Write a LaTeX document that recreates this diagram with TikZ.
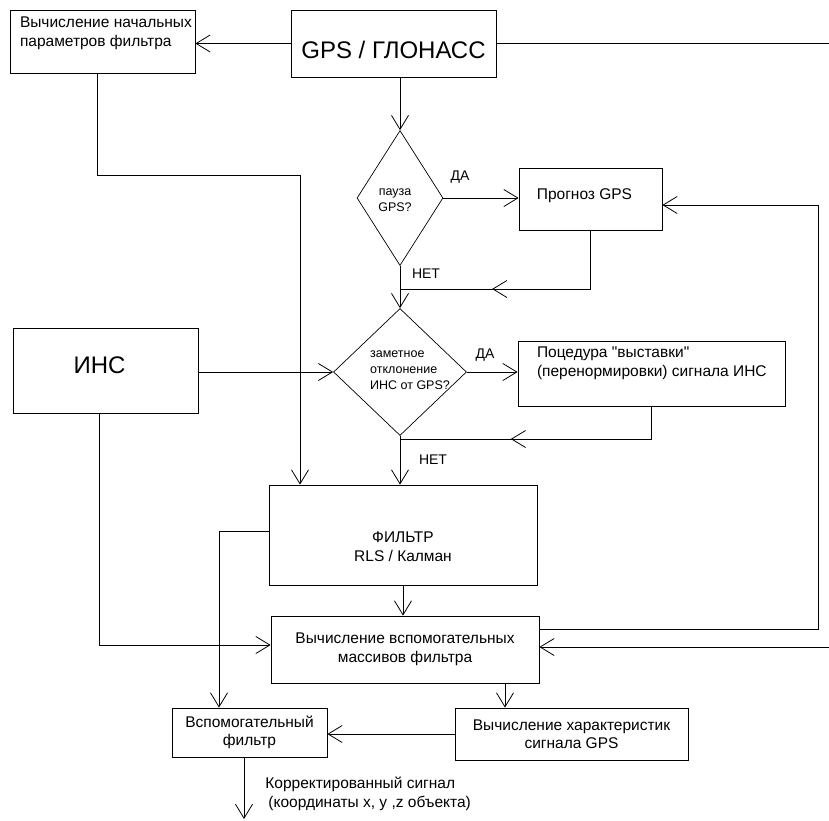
\documentclass[tikz,border=0pt]{standalone}
\usepackage{fontspec}
\setmainfont{Liberation Sans}
\usetikzlibrary{shapes.geometric,arrows.meta,decorations.markings}

\begin{document}
\begin{tikzpicture}[x=1pt, y=-1pt, line width=0.8pt,
  >={Straight Barb[length=14pt,width=17pt]},
  blok/.style={draw, rectangle, inner sep=0pt},
  romb/.style={draw, diamond, inner sep=0pt, line width=0.7pt},
  txt/.style={inner sep=0pt, align=center, font=\fontsize{15.5}{18.5}\selectfont},
  lbl/.style={txt, anchor=north west, align=left},
  metka/.style={inner sep=0pt, font=\fontsize{14}{17}\selectfont},
  malo/.style={inner sep=0pt, font=\fontsize{12.5}{16}\selectfont},
  krup/.style={inner sep=0pt, font=\fontsize{24}{28}\selectfont},
  midarrow/.style={postaction={decorate},
    decoration={markings, mark=at position #1 with {\arrow{>}}}}]

\useasboundingbox (0,0) rectangle (829,820);

% Верхний ряд
\node[blok, minimum width=185pt, minimum height=63pt,
  label={[lbl, xshift=10pt, yshift=-7pt]north west:Вычисление начальных\\параметров фильтра}]
  (init) at (102.5,41.5) {};
\node[blok, minimum width=205pt, minimum height=67pt,
  label={[krup, yshift=-6pt]center:GPS / ГЛОНАСС}] (gps) at (393.5,43.5) {};

% Ромбы
\node[romb, minimum width=86pt, minimum height=135pt,
  label={[malo, align=center, xshift=-5pt, yshift=-2pt]center:пауза\\GPS?}] (d1) at (400,198) {};
\node[romb, minimum width=133pt, minimum height=127pt,
  label={[malo, align=left, xshift=10pt, yshift=2pt]center:заметное\\отклонение\\ИНС от GPS?}] (d2) at (400,372) {};

% Правые блоки
\node[blok, minimum width=143pt, minimum height=62pt,
  label={[txt, xshift=-6pt, yshift=3pt]center:Прогноз GPS}] (prog) at (590.5,199) {};
\node[blok, minimum width=267pt, minimum height=65pt,
  label={[lbl, xshift=19pt, yshift=-6pt]north west:Поцедура \textquotedbl выставки\textquotedbl\\(перенормировки) сигнала ИНС}]
  (proc) at (651.5,373.5) {};

% ИНС
\node[blok, minimum width=185pt, minimum height=85pt,
  label={[krup, xshift=-6pt, yshift=5pt]center:ИНС}] (ins) at (105.5,370.5) {};

% Фильтры
\node[blok, minimum width=268pt, minimum height=100pt,
  label={[txt, yshift=-11.5pt]center:ФИЛЬТР\\RLS / Калман}] (filt) at (403,535) {};
\node[blok, txt, minimum width=268pt, minimum height=67pt] (aux) at (405,649.5)
  {Вычисление вспомогательных\\массивов фильтра};
\node[blok, txt, minimum width=155pt, minimum height=49pt] (vsp) at (249.5,732.5)
  {Вспомогательный\\фильтр};
\node[blok, txt, minimum width=233pt, minimum height=52pt] (char) at (571.5,734)
  {Вычисление характеристик\\сигнала GPS};

% Подписи
\node[metka] (da1) at (460,177) {ДА};
\node[metka] (net1) at (426,274) {НЕТ};
\node[metka] (da2) at (485,355) {ДА};
\node[metka] (net2) at (433,460) {НЕТ};
\node[lbl] (korr) at (265,777) {Корректированный сигнал\\\hspace*{3pt}(координаты x, y ,z объекта)};

% Точки изломов
\coordinate (gpsR) at (829,43.5);
\coordinate (gpsL) at (829,647);
\coordinate (r1) at (818,629);
\coordinate (r2) at (818,205);
\coordinate (m1) at (400,289);
\coordinate (m2) at (400,439);
\coordinate (bend) at (300,175);
\coordinate (out) at (244,819);

% Связи
\draw[->] (gps.west) -- (init.east |- gps.west);
\draw (gps.east) -- (gpsR);
\draw[->] (gps.south -| d1.north) -- (d1.north);
\draw[->] (d1.east) -- (prog.west |- d1.east);
\draw[->] (d1.south) -- (d2.north);
\draw[midarrow=0.63] (prog.south) |- (m1);
\draw[->] (ins.east |- d2.west) -- (d2.west);
\draw[->] (d2.east) -- (proc.west |- d2.east);
\draw[midarrow=0.61] (proc.south) |- (m2);
\draw[->] (d2.south) -- (d2.south |- filt.north);
\draw[->] ([xshift=-5.5pt]init.south) |- (bend) -- (bend |- filt.north);
\draw[->] (filt.south) -- (filt.south |- aux.north);
\draw[->] ([yshift=4pt]filt.west) -| ([xshift=-30.5pt]vsp.north);
\draw[->] ([xshift=-6.5pt]ins.south) |- ([yshift=4.5pt]aux.west);
\draw[->] ([yshift=20.5pt]aux.east) -- (r1) -- (r2) -- ([yshift=-6pt]prog.east);
\draw[->] (gpsL) -- (aux.east |- gpsL);
\draw[->] ([xshift=-66.5pt]char.north |- aux.south) -- ([xshift=-66.5pt]char.north);
\draw[->] (char.west) -- (vsp.east |- char.west);
\draw[->] ([xshift=-5.5pt]vsp.south) -- (out);

\end{tikzpicture}
\end{document}
